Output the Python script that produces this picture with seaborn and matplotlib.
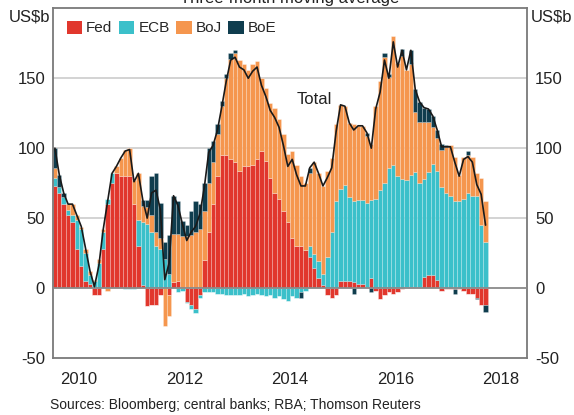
import numpy as np
import pandas as pd
import matplotlib
matplotlib.use('Agg')
import matplotlib.pyplot as plt
import seaborn as sns
from matplotlib.patches import Patch
import matplotlib.transforms as mtransforms

# Monthly central bank asset purchases, US$b, three-month moving average
# Jan 2010 .. Mar 2018 (99 months)
fed = [73, 68, 60, 52, 47, 28, 16, 5, 3, -5, -5, 28,
       60, 75, 82, 80, 80, 80, 60, 30, 2, -13, -12, -12,
       -5, 0, -5, 4, 5, 0, -10, -12, -15, -5, 20, 40,
       60, 80, 95, 95, 92, 90, 84, 87, 87, 88, 92, 98,
       91, 79, 68, 64, 55, 47, 36, 30, 30, 27, 22, 14,
       7, 2, -5, -7, -5, 5, 5, 5, 4, 3, 3, 1,
       7, -2, -8, -5, -3, -4, -3, -1, 1, 1, 1, 1,
       8, 9, 9, 6, -2, -1, -1, -1, -1, -2, -4, -4,
       -7, -12, -12]
ecb = [6, 4, 5, 4, 5, 21, 26, 20, 6, 5, 18, 12,
       4, 7, 0, 0, -1, -1, -1, 19, 45, 46, 40, 30,
       28, 21, 10, 0, -3, -2, -1, -3, -3, -2, -3, -3,
       -3, -4, -4, -5, -5, -5, -5, -4, -6, -5, -4, -5,
       -6, -5, -7, -6, -8, -9, -6, -7, -3, -2, 8, 10,
       12, 8, 22, 40, 62, 66, 69, 60, 58, 60, 60, 60,
       56, 64, 70, 75, 86, 88, 80, 78, 76, 80, 82, 74,
       70, 74, 80, 78, 72, 68, 66, 62, 62, 64, 68, 66,
       66, 45, 33]
boj = [7, 0, 0, 4, 8, 3, 2, 3, 3, 1, 3, 2,
       -2, 0, 5, 13, 19, 20, 17, 33, 12, 12, 12, 10,
       8, -27, -15, 35, 34, 37, 37, 38, 40, 42, 35, 35,
       30, 30, 35, 55, 72, 78, 79, 73, 69, 72, 70, 52,
       52, 53, 61, 57, 55, 49, 62, 58, 50, 48, 52, 66,
       63, 63, 62, 53, 55, 60, 56, 53, 55, 53, 53, 48,
       40, 66, 78, 90, 65, 92, 81, 88, 79, 79, 43, 44,
       41, 36, 26, 23, 27, 33, 36, 32, 19, 30, 27, 28,
       16, 34, 29]
boe = [14, 9, 3, 0, 0, 0, 0, 0, 0, 0, 0, 0,
       0, 0, 0, 0, 0, 0, 0, 0, 4, 5, 28, 42,
       25, 12, 28, 27, 23, 11, 8, 17, 22, 18, 20, 25,
       15, 7, 4, 3, 4, 2, 0, 0, 0, 0, 0, 0,
       0, 0, 0, 0, 0, 0, 0, 0, -4, 0, 4, 0,
       0, 0, 0, 0, 0, 0, 0, 0, -4, 0, 0, 2,
       -3, 0, 0, 3, 2, 0, 0, 5, 0, 10, 16, 14,
       10, 9, 8, 6, 4, 1, 0, -3, 0, 0, 3, 0,
       -1, 0, -5]

banks = ['Fed', 'ECB', 'BoJ', 'BoE']
colors = {'Fed': '#E1372D', 'ECB': '#3BC0CA', 'BoJ': '#F5964E', 'BoE': '#0F3D4E'}
year_ticks = list(range(2011, 2019))
year_labels = ['2010', '2012', '2014', '2016', '2018']

months = pd.date_range('2010-01-01', periods=len(fed), freq='MS')
df = pd.DataFrame({'Fed': fed, 'ECB': ecb, 'BoJ': boj, 'BoE': boe}, index=months)
df['x'] = df.index.year + (df.index.month - 0.5) / 12
df['Total'] = df[banks].sum(axis=1)

sns.set_style('white')
plt.rcParams['font.family'] = ['Liberation Sans', 'DejaVu Sans']
plt.rcParams['axes.unicode_minus'] = False

fig = plt.figure(figsize=(5.74, 4.15), dpi=100)
ax = fig.add_axes([52.7 / 574, 1 - 358 / 415, 474.6 / 574, 349.7 / 415])

# gridlines behind the bars
for g in [50, 100, 150]:
    ax.axhline(g, color='#c8c8c8', lw=1.1, zorder=0)

# stacked bars, positives up and negatives down; faint pale separators between months
pos_base = np.zeros(len(df))
neg_base = np.zeros(len(df))
w = 1 / 12
for b in banks:
    v = df[b].values.astype(float)
    pos = np.where(v > 0, v, 0)
    neg = np.where(v < 0, v, 0)
    ax.bar(df['x'], pos, width=w, bottom=pos_base, color=colors[b],
           edgecolor=(1, 1, 1, 0.3), linewidth=0.5, zorder=2)
    ax.bar(df['x'], neg, width=w, bottom=neg_base, color=colors[b],
           edgecolor=(1, 1, 1, 0.3), linewidth=0.5, zorder=2)
    pos_base += pos
    neg_base += neg

ax.axhline(0, color='#8a8a8a', lw=1.3, zorder=3)

sns.lineplot(x=df['x'], y=df['Total'], color='#1a1a1a', lw=1.2, ax=ax, zorder=4)
ax.text(2014.63, 135, 'Total', fontsize=12, ha='left', va='center', color='#222222')

ax.set_xlim(2010, 2019)
ax.set_ylim(-50, 200)
ax.set_xlabel('')
ax.set_ylabel('')

# y axis labels on both sides
ax.set_yticks([-50, 0, 50, 100, 150])
ax.tick_params(axis='y', left=False, right=False, labelleft=True, labelright=True,
               labelsize=12, pad=2, colors='#222222')

# x axis: inner ticks at year boundaries, labels mid-year
ax.set_xticks(year_ticks)
ax.set_xticklabels([''] * len(year_ticks))
ax.set_xticks([int(y) + 0.5 for y in year_labels], minor=True)
ax.set_xticklabels(year_labels, minor=True)
ax.tick_params(axis='x', which='major', direction='in', length=5, width=1.1, color='#666666')
ax.tick_params(axis='x', which='minor', length=0, labelsize=12, pad=10, colors='#222222')

for s in ax.spines.values():
    s.set_color('#7a7a7a')
    s.set_linewidth(1.3)

trans = mtransforms.blended_transform_factory(ax.transAxes, ax.transData)
ax.text(-0.006, 193.5, 'US$b', transform=trans, ha='right', va='center', fontsize=12, color='#222222')
ax.text(1.008, 193.5, 'US$b', transform=trans, ha='left', va='center', fontsize=12, color='#222222')

handles = [Patch(facecolor=colors[b], edgecolor='none', label=b) for b in banks]
ax.legend(handles=handles, loc='upper left', bbox_to_anchor=(0.03, 0.965), ncol=4,
          frameon=False, fontsize=11, handlelength=1.0, handleheight=0.95,
          handletextpad=0.25, columnspacing=0.45, borderpad=0, borderaxespad=0)

# the subtitle sits at the very top edge, partly cropped as in the original
fig.text(0.505, 1 - 3 / 415, 'Three-month moving average', ha='center', va='baseline',
         fontsize=12, color='#222222')
fig.text(50 / 574, 1 - 405 / 415, 'Sources: Bloomberg; central banks; RBA; Thomson Reuters',
         ha='left', va='center', fontsize=10, color='#222222')

fig.savefig('out.png', dpi=100)
